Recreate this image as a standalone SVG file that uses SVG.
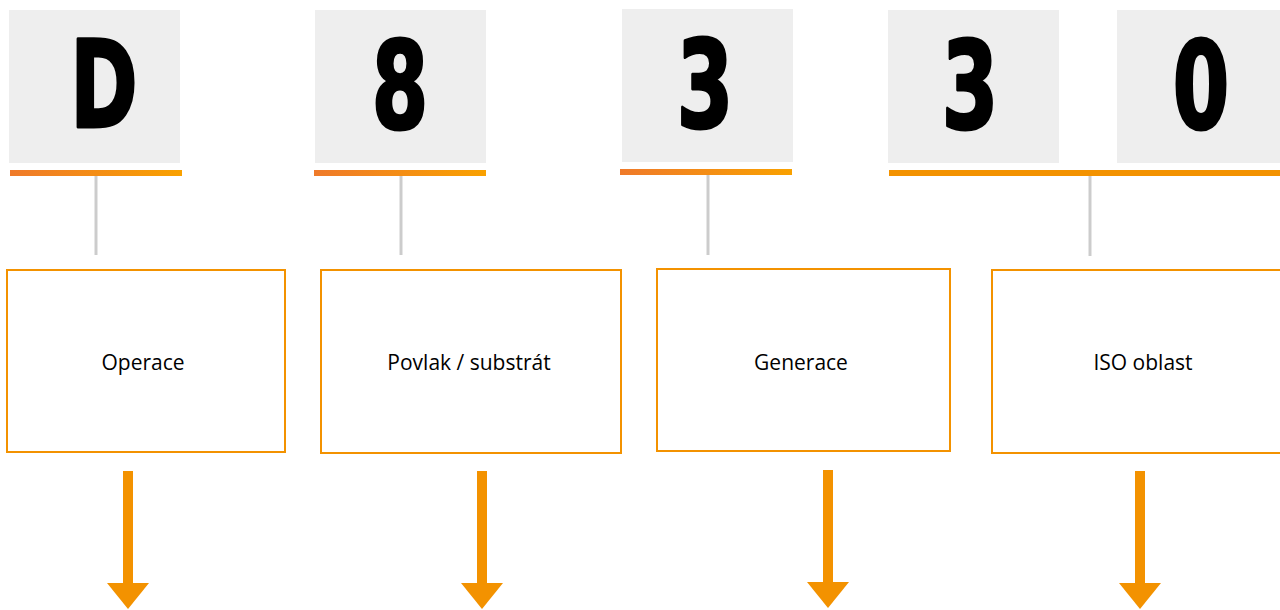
<svg xmlns="http://www.w3.org/2000/svg" width="1280" height="610" viewBox="0 0 1280 610">
<defs>
<linearGradient id="g" x1="0" x2="1" y1="0" y2="0">
<stop offset="0" stop-color="#ef7a2a"/>
<stop offset="1" stop-color="#f9a100"/>
</linearGradient>
</defs>
<style>
.tile{fill:#eeeeee}
.big{font-family:"DejaVu Sans Condensed","Liberation Sans Narrow","Liberation Sans",sans-serif;font-weight:bold;font-size:122px;fill:#000;stroke:#000;stroke-width:3;stroke-linejoin:round;text-anchor:middle}
.box{fill:#fff;stroke:#f39200;stroke-width:2}
.lbl{font-family:"Open Sans","Noto Sans",sans-serif;font-size:21px;fill:#000;text-anchor:middle}
.stem{stroke:#cccccc;stroke-width:3;fill:none}
.shaft{fill:#f39200}
</style>
<g id="tiles">
<g id="tile-D"><rect class="tile" x="9" y="10" width="171" height="153"/><text class="big" transform="translate(104,127) scale(0.74,1)">D</text><rect x="10" y="170" width="172" height="6" fill="url(#g)"/></g>
<g id="tile-8"><rect class="tile" x="315" y="10" width="171" height="153"/><text class="big" transform="translate(400,128) scale(0.74,1)">8</text><rect x="314" y="170" width="172" height="6" fill="url(#g)"/></g>
<g id="tile-3a"><rect class="tile" x="622" y="9" width="171" height="153"/><text class="big" transform="translate(705,127) scale(0.74,1)">3</text><rect x="620" y="169" width="172" height="6" fill="url(#g)"/></g>
<g id="tile-3b"><rect class="tile" x="888" y="10" width="171" height="153"/><text class="big" transform="translate(970,128) scale(0.74,1)">3</text></g>
<g id="tile-0"><rect class="tile" x="1117" y="10" width="163" height="153"/><text class="big" transform="translate(1201,128) scale(0.74,1)">0</text></g>
<rect x="889" y="170" width="391" height="6" fill="#f39200"/>
</g>
<g id="connectors">
<line class="stem" x1="96" y1="176" x2="96" y2="255"/>
<line class="stem" x1="401" y1="176" x2="401" y2="255"/>
<line class="stem" x1="708" y1="175" x2="708" y2="255"/>
<line class="stem" x1="1090" y1="176" x2="1090" y2="256"/>
<g class="shaft">
<rect x="123" y="471" width="10" height="113"/><polygon points="107,583 149,583 128,609"/>
<rect x="477" y="471" width="10" height="113"/><polygon points="461,583 503,583 482,609"/>
<rect x="823" y="470" width="10" height="113"/><polygon points="807,582 849,582 828,608"/>
<rect x="1135" y="471" width="10" height="113"/><polygon points="1119,583 1161,583 1140,609"/>
</g>
</g>
<g id="box-operace"><rect class="box" x="7" y="270" width="278" height="182"/><text class="lbl" x="143" y="370">Operace</text></g>
<g id="box-povlak"><rect class="box" x="321" y="270" width="300" height="183"/><text class="lbl" x="469" y="370">Povlak / substrát</text></g>
<g id="box-generace"><rect class="box" x="657" y="269" width="293" height="182"/><text class="lbl" x="801" y="370">Generace</text></g>
<g id="box-iso"><rect class="box" x="992" y="270" width="296" height="183"/><text class="lbl" x="1143" y="370">ISO oblast</text></g>
</svg>
